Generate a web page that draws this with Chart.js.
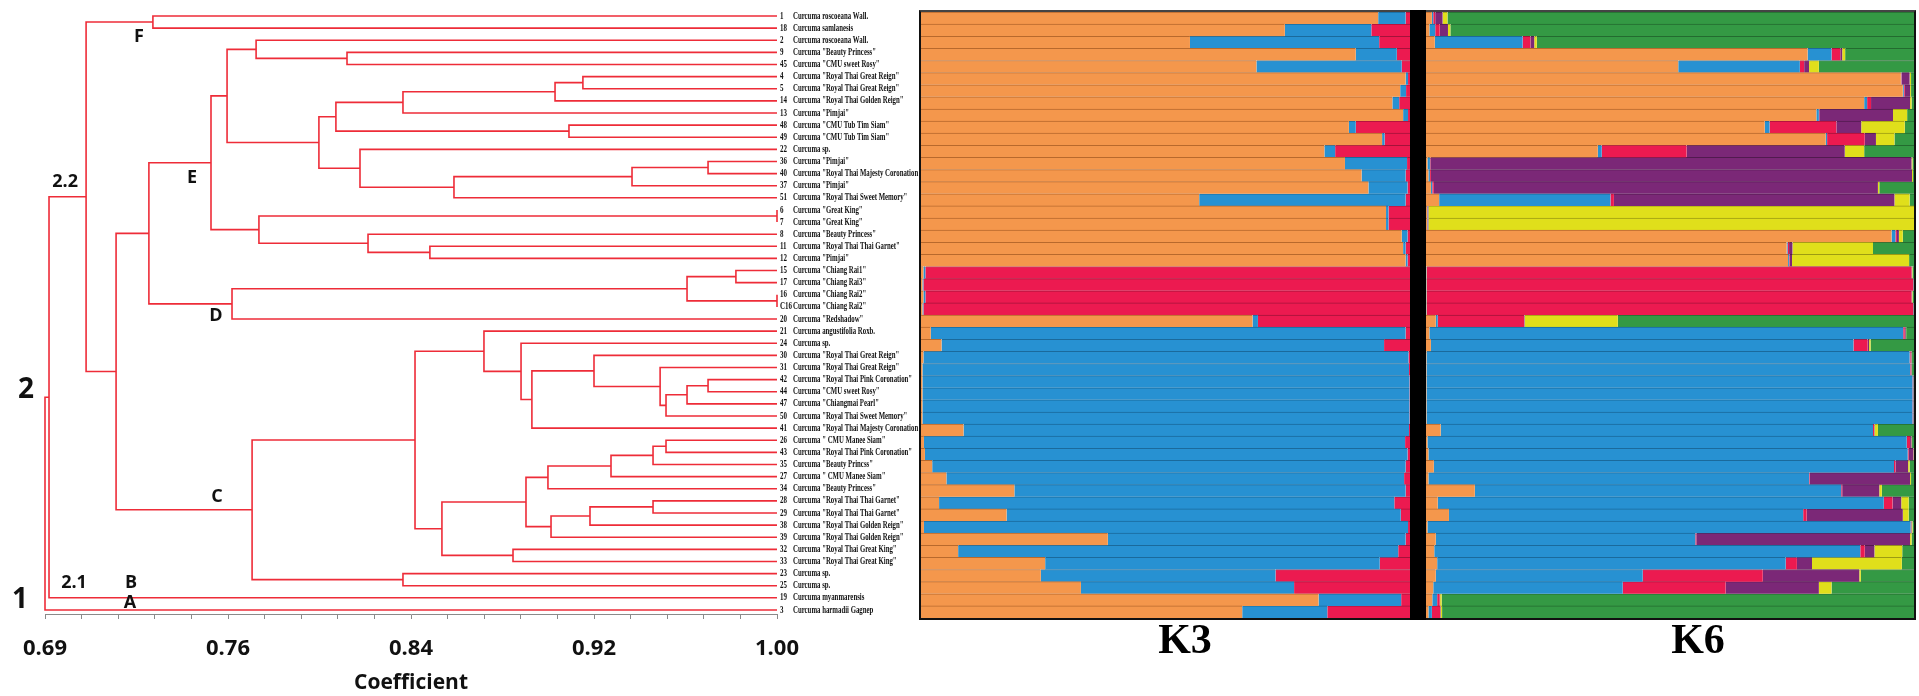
<!DOCTYPE html>
<html>
<head>
<meta charset="utf-8">
<script src="https://cdn.jsdelivr.net/npm/chart.js@4.4.0/dist/chart.umd.min.js"></script>
<style>
  body { margin: 0; background: #fff; width: 1919px; height: 696px; overflow: hidden; position: relative; }
  canvas { position: absolute; }
  #dendro { left: 0; top: 0; }
  #k3 { left: 921px; top: 12px; }
  #k6 { left: 1426px; top: 12px; }
  #frame { position: absolute; left: 919px; top: 10px; width: 993px; height: 606px; border: 2px solid #111; border-top-color: #444; }
  #divider { position: absolute; left: 1410px; top: 10px; width: 16px; height: 610px; background: #000; }
</style>
</head>
<body>
<canvas id="dendro" width="920" height="696"></canvas>
<canvas id="k3" width="489" height="684"></canvas>
<canvas id="k6" width="488" height="684"></canvas>
<div id="frame"></div>
<div id="divider"></div>
<script>
// leaves, top to bottom
const leafNumbers = ['1', '18', '2', '9', '45', '4', '5', '14', '13', '48',
  '49', '22', '36', '40', '37', '51', '6', '7', '8', '11',
  '12', '15', '17', '16', 'C16', '20', '21', '24', '30', '31',
  '42', '44', '47', '50', '41', '26', '43', '35', '27', '34',
  '28', '29', '38', '39', '32', '33', '23', '25', '19', '3'];
const leafNames = ['Curcuma roscoeana Wall.', 'Curcuma samlanesis', 'Curcuma roscoeana Wall.',
  'Curcuma "Beauty Princess"', 'Curcuma "CMU sweet Rosy"', 'Curcuma "Royal Thai Great Reign"',
  'Curcuma "Royal Thai Great Reign"', 'Curcuma "Royal Thai Golden Reign"', 'Curcuma "Pimjai"',
  'Curcuma "CMU Tub Tim Siam"', 'Curcuma "CMU Tub Tim Siam"', 'Curcuma sp.',
  'Curcuma "Pimjai"', 'Curcuma "Royal Thai Majesty Coronation"', 'Curcuma "Pimjai"',
  'Curcuma "Royal Thai Sweet Memory"', 'Curcuma "Great King"', 'Curcuma "Great King"',
  'Curcuma "Beauty Princess"', 'Curcuma "Royal Thai Thai Garnet"', 'Curcuma "Pimjai"',
  'Curcuma "Chiang Rai1"', 'Curcuma "Chiang Rai3"', 'Curcuma "Chiang Rai2"',
  'Curcuma "Chiang Rai2"', 'Curcuma "Redshadow"', 'Curcuma angustifolia Roxb.',
  'Curcuma sp.', 'Curcuma "Royal Thai Great Reign"', 'Curcuma "Royal Thai Great Reign"',
  'Curcuma "Royal Thai Pink Coronation"', 'Curcuma "CMU sweet Rosy"', 'Curcuma "Chiangmai Pearl"',
  'Curcuma "Royal Thai Sweet Memory"', 'Curcuma "Royal Thai Majesty Coronation"', 'Curcuma " CMU Manee Siam"',
  'Curcuma "Royal Thai Pink Coronation"', 'Curcuma "Beauty Princss"', 'Curcuma " CMU Manee Siam"',
  'Curcuma "Beauty Princess"', 'Curcuma "Royal Thai Thai Garnet"', 'Curcuma "Royal Thai Thai Garnet"',
  'Curcuma "Royal Thai Golden Reign"', 'Curcuma "Royal Thai Golden Reign"', 'Curcuma "Royal Thai Great King"',
  'Curcuma "Royal Thai Great King"', 'Curcuma sp.', 'Curcuma sp.',
  'Curcuma myanmarensis', 'Curcuma harmadii Gagnep'];

// linkage rows: [child a, child b, coefficient]; ids >= 50 are earlier rows (50 + row)
const linkage = [
  [16, 17, 1.000], [23, 24, 1.000], [30, 31, 0.9708], [21, 22, 0.9826],
  [52, 32, 0.9619], [54, 33, 0.9530], [29, 55, 0.9505], [28, 56, 0.9225],
  [57, 34, 0.8962], [27, 58, 0.8916], [26, 59, 0.8759], [35, 36, 0.9530],
  [61, 37, 0.9475], [62, 38, 0.9297], [63, 39, 0.9030], [40, 41, 0.9475],
  [65, 42, 0.9208], [66, 43, 0.9043], [64, 67, 0.8937], [44, 45, 0.8882],
  [68, 69, 0.8581], [60, 70, 0.8467], [46, 47, 0.8416], [71, 72, 0.7777],
  [53, 51, 0.9619], [74, 25, 0.7692], [5, 6, 0.9178], [76, 7, 0.9060],
  [77, 8, 0.8416], [9, 10, 0.9119], [78, 79, 0.8132], [12, 13, 0.9708],
  [81, 14, 0.9386], [82, 15, 0.8632], [11, 83, 0.8234], [80, 84, 0.8060],
  [3, 4, 0.8179], [2, 86, 0.7794], [87, 85, 0.7671], [19, 20, 0.8530],
  [18, 89, 0.8268], [50, 90, 0.7806], [88, 91, 0.7603], [92, 75, 0.7340],
  [93, 73, 0.7201], [0, 1, 0.7357], [95, 94, 0.7074], [96, 48, 0.6917],
  [97, 49, 0.6900]
];

const axisMin = 0.69;
const axisMax = 1.00;
const tickLabels = ['0.69', '0.76', '0.84', '0.92', '1.00'];

const cladeText = ['1', '2', '2.1', '2.2', 'A', 'B', 'C', 'D', 'E', 'F'];
const cladeX = [0.6794, 0.6820, 0.7023, 0.6985, 0.7260, 0.7264, 0.7628, 0.7624, 0.7523, 0.7298];
const cladeY = [48.2, 30.86, 46.78, 13.70, 48.43, 46.78, 39.69, 24.75, 13.37, 1.73];

// STRUCTURE memberships per leaf (same order as leafNumbers)
const k3Orange = [.935, .744, .550, .889, .686, .991, .980, .964, .986, .875,
  .943, .825, .867, .901, .915, .569, .951, .951, .983, .986,
  .991, .005, .003, .005, .003, .678, .020, .042, .005, .003,
  .003, .003, .003, .003, .087, .006, .008, .023, .052, .191,
  .037, .175, .006, .382, .076, .254, .245, .327, .813, .657];
const k3Blue = [.056, .177, .387, .084, .297, .005, .012, .014, .010, .014,
  .005, .022, .127, .090, .080, .422, .005, .005, .012, .005,
  .004, .004, .002, .004, .002, .011, .971, .905, .992, .995,
  .996, .996, .996, .996, .911, .984, .987, .968, .936, .800,
  .931, .806, .990, .609, .900, .684, .480, .436, .169, .174];
const k3Red = [.009, .079, .063, .027, .017, .004, .008, .022, .004, .111,
  .052, .153, .006, .009, .005, .009, .044, .044, .005, .009,
  .005, .991, .995, .991, .995, .311, .009, .053, .003, .002,
  .001, .001, .001, .001, .002, .010, .005, .009, .012, .009,
  .032, .019, .004, .009, .024, .062, .275, .237, .018, .169];

const k6Orange = [.012, .007, .018, .782, .517, .973, .977, .898, .800, .694,
  .819, .352, .003, .005, .010, .027, .002, .002, .954, .739,
  .742, .001, .001, .001, .001, .020, .007, .010, .001, .001,
  .001, .001, .001, .001, .030, .003, .005, .016, .005, .100,
  .024, .047, .003, .020, .017, .023, .020, .015, .013, .005];
const k6Blue = [.003, .012, .180, .049, .249, .001, .002, .006, .005, .010,
  .003, .008, .005, .003, .003, .351, .001, .001, .008, .002,
  .002, .001, .001, .001, .001, .004, .971, .866, .990, .991,
  .996, .996, .996, .996, .886, .982, .982, .943, .780, .751,
  .914, .726, .990, .532, .873, .714, .424, .388, .010, .007];
const k6Red = [.004, .009, .016, .018, .009, .001, .002, .008, .001, .137,
  .077, .174, .001, .002, .003, .007, .001, .001, .003, .003,
  .001, .993, .996, .993, .996, .177, .003, .029, .002, .001,
  .001, .001, .001, .001, .002, .007, .002, .003, .001, .002,
  .018, .007, .001, .002, .009, .023, .246, .211, .005, .017];
const k6Purple = [.015, .017, .008, .004, .010, .016, .011, .080, .151, .051,
  .023, .324, .986, .986, .910, .575, .001, .001, .004, .007,
  .005, .001, .001, .001, .001, .001, .002, .003, .002, .002,
  .001, .001, .001, .001, .001, .003, .010, .026, .206, .076,
  .018, .197, .001, .438, .020, .031, .198, .191, .001, .001];
const k6Yellow = [.010, .005, .005, .006, .020, .003, .002, .003, .029, .089,
  .038, .040, .002, .002, .003, .031, .995, .995, .008, .165,
  .240, .001, .000, .001, .000, .191, .001, .003, .001, .001,
  .000, .000, .000, .000, .007, .001, .001, .003, .002, .005,
  .015, .012, .002, .003, .057, .184, .003, .026, .003, .003];
const k6Green = [.956, .950, .773, .141, .195, .006, .006, .005, .014, .019,
  .040, .102, .003, .002, .071, .009, .000, .000, .023, .084,
  .010, .003, .001, .003, .001, .607, .016, .089, .004, .004,
  .001, .001, .001, .001, .074, .004, .000, .009, .006, .066,
  .011, .011, .003, .005, .024, .025, .109, .169, .968, .967];

const lineRed = '#ee2c38';
const clusterColors = {
  orange: ['#f4974c', '#b8692c'],
  blue: ['#2791d2', '#1a6a9c'],
  red: ['#ec1a50', '#a5123a'],
  purple: ['#7b2877', '#521a4f'],
  yellow: ['#e0df1b', '#9c9b12'],
  green: ['#349944', '#236b2f']
};


// ---- dendrogram ----
const nodeX = leafNumbers.map(() => axisMax);
const nodeY = leafNumbers.map((n, i) => i);
const branchSets = [];
linkage.forEach(([a, b, h]) => {
  branchSets.push({
    data: [
      { x: nodeX[a], y: nodeY[a] },
      { x: h, y: nodeY[a] },
      { x: h, y: nodeY[b] },
      { x: nodeX[b], y: nodeY[b] }
    ],
    showLine: true,
    borderColor: lineRed,
    borderWidth: 1.6,
    pointRadius: 0,
    tension: 0,
    clip: false
  });
  nodeX.push(h);
  nodeY.push((nodeY[a] + nodeY[b]) / 2);
});

function drawSquashed(ctx, text, x, y, squash) {
  ctx.save();
  ctx.translate(x, y);
  ctx.scale(squash, 1);
  ctx.fillText(text, 0, 0);
  ctx.restore();
}

const treeTextPlugin = {
  id: 'treeText',
  afterDatasetsDraw(chart) {
    const ctx = chart.ctx;
    const xs = chart.scales.x;
    const ys = chart.scales.y;
    const xEnd = xs.getPixelForValue(axisMax);
    ctx.save();
    ctx.fillStyle = '#111';
    ctx.textBaseline = 'middle';
    ctx.textAlign = 'left';
    ctx.font = 'bold 10px "Liberation Serif"';
    leafNumbers.forEach((num, i) => {
      const y = ys.getPixelForValue(i);
      drawSquashed(ctx, num, xEnd + 3, y, 0.7);
      drawSquashed(ctx, leafNames[i], xEnd + 16, y, 0.68);
    });
    ctx.textAlign = 'center';
    cladeText.forEach((t, i) => {
      const big = (t === '1' || t === '2');
      ctx.font = big ? 'bold 28px "Open Sans"' : 'bold 18px "Open Sans"';
      ctx.fillText(t, xs.getPixelForValue(cladeX[i]), ys.getPixelForValue(cladeY[i]));
    });
    ctx.restore();
  }
};

new Chart(document.getElementById('dendro'), {
  type: 'scatter',
  data: { datasets: branchSets },
  options: {
    responsive: false,
    animation: false,
    layout: { padding: { left: 45, right: 143, top: 10, bottom: 0 } },
    plugins: { legend: { display: false }, tooltip: { enabled: false } },
    scales: {
      x: {
        type: 'linear',
        min: axisMin,
        max: axisMax,
        afterBuildTicks: (axis) => {
          const t = [];
          for (let k = 0; k <= 20; k++) t.push({ value: axisMin + (axisMax - axisMin) * k / 20 });
          axis.ticks = t;
        },
        afterFit: (axis) => { axis.height = 82; },
        ticks: {
          autoSkip: false,
          maxRotation: 0,
          padding: 17,
          color: '#111',
          font: { family: 'Open Sans', size: 22, weight: 'bold' },
          callback: (v, idx) => (idx % 5 === 0 ? tickLabels[idx / 5] : '')
        },
        grid: { drawOnChartArea: false, tickLength: 5, color: '#8a8a8a' },
        border: { display: true, color: '#8a8a8a' },
        title: {
          display: true,
          text: 'Coefficient',
          color: '#111',
          font: { family: 'Open Sans', size: 21, weight: 'bold' },
          padding: { top: 0, bottom: 0 }
        }
      },
      y: { type: 'linear', reverse: true, min: -0.495, max: 49.335, display: false }
    }
  },
  plugins: [treeTextPlugin]
});


// ---- STRUCTURE bar plots ----
const panelLabelPlugin = {
  id: 'panelLabel',
  afterDraw(chart, args, opts) {
    const ctx = chart.ctx;
    ctx.save();
    ctx.fillStyle = '#000';
    ctx.textAlign = 'center';
    ctx.textBaseline = 'middle';
    ctx.font = 'bold 42px "Liberation Serif"';
    ctx.fillText(opts.text, opts.x, opts.y);
    ctx.restore();
  }
};

function clusterSet(name, values) {
  return {
    label: name,
    data: values,
    backgroundColor: clusterColors[name][0],
    borderColor: clusterColors[name][1],
    borderWidth: { top: 1, bottom: 0, left: 0, right: 0 },
    borderSkipped: false,
    barPercentage: 1,
    categoryPercentage: 1
  };
}

function drawStructure(id, datasets, label, labelX) {
  new Chart(document.getElementById(id), {
    type: 'bar',
    data: { labels: leafNumbers, datasets },
    options: {
      indexAxis: 'y',
      responsive: false,
      animation: false,
      layout: { padding: { left: 0, right: 0, top: 0, bottom: 78 } },
      plugins: {
        legend: { display: false },
        tooltip: { enabled: false },
        panelLabel: { text: label, x: labelX, y: 630 }
      },
      scales: {
        x: { stacked: true, min: 0, max: 1, display: false },
        y: { stacked: true, display: false }
      }
    },
    plugins: [panelLabelPlugin]
  });
}

drawStructure('k3', [
  clusterSet('orange', k3Orange),
  clusterSet('blue', k3Blue),
  clusterSet('red', k3Red)
], 'K3', 264);

drawStructure('k6', [
  clusterSet('orange', k6Orange),
  clusterSet('blue', k6Blue),
  clusterSet('red', k6Red),
  clusterSet('purple', k6Purple),
  clusterSet('yellow', k6Yellow),
  clusterSet('green', k6Green)
], 'K6', 272);
</script>
</body>
</html>
